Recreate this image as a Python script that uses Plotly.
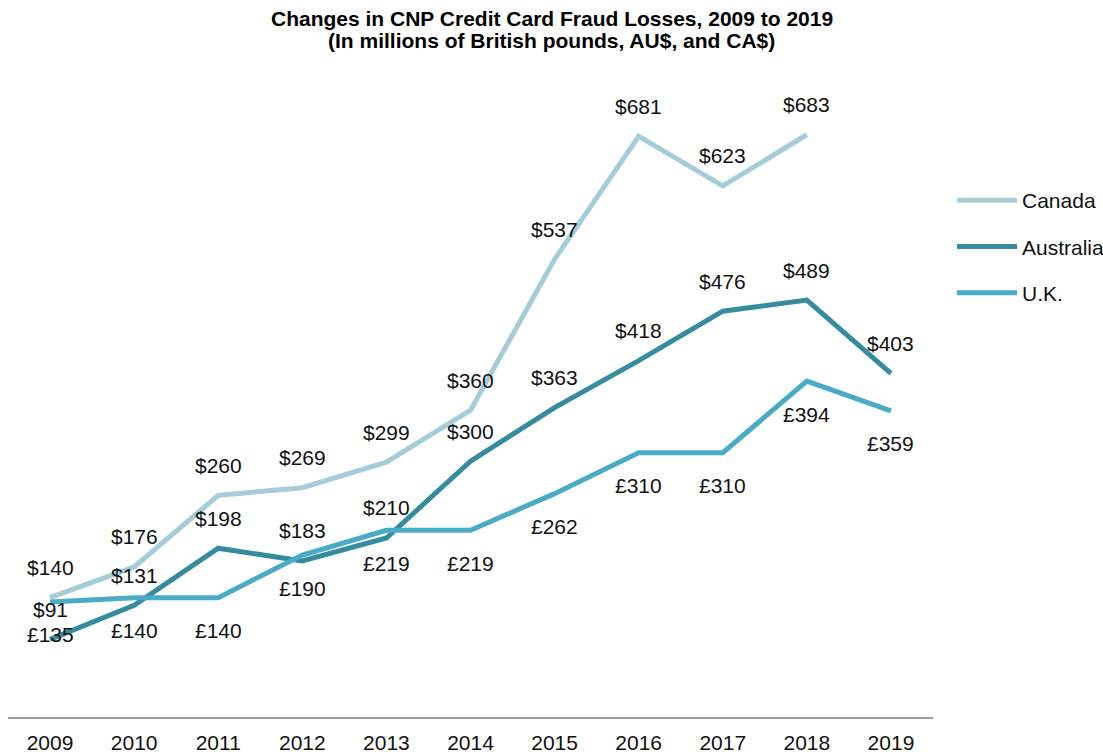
import plotly.graph_objects as go

years = [2009, 2010, 2011, 2012, 2013, 2014, 2015, 2016, 2017, 2018, 2019]
canada = [140, 176, 260, 269, 299, 360, 537, 681, 623, 683, None]
australia = [91, 131, 198, 183, 210, 300, 363, 418, 476, 489, 403]
uk = [135, 140, 140, 190, 219, 219, 262, 310, 310, 394, 359]

title_lines = ["Changes in CNP Credit Card Fraud Losses, 2009 to 2019",
               "(In millions of British pounds, AU$, and CA$)"]

series = [
    ("Canada", canada, "#a6ccd9", "$", 30),
    ("Australia", australia, "#368c9f", "$", 30),
    ("U.K.", uk, "#4aabc7", "£", -33),
]

FONT = "Liberation Sans, Arial, sans-serif"
fig = go.Figure()
annotations = []
for name, vals, color, cur, shift in series:
    fig.add_trace(go.Scatter(x=years, y=vals, mode="lines", name=name,
                             legendgroup=name,
                             line=dict(color=color, width=5),
                             connectgaps=False, hoverinfo="skip"))
    for x, v in zip(years, vals):
        if v is None:
            continue
        annotations.append(dict(x=x, y=v, text=f"{cur}{v}", showarrow=False,
                                yshift=shift, xanchor="center", yanchor="middle",
                                font=dict(family=FONT, size=21, color="#111111")))

for line, yy in zip(title_lines, [1.0249, 0.9926]):
    annotations.append(dict(xref="paper", yref="paper", x=0.588, y=yy,
                            text=f"<b>{line}</b>", showarrow=False,
                            xanchor="center", yanchor="middle",
                            font=dict(family=FONT, size=21, color="#000000")))

fig.update_layout(
    width=1103, height=756,
    paper_bgcolor="white", plot_bgcolor="white",
    margin=dict(l=8, r=170, t=35, b=39, autoexpand=False),
    font=dict(family=FONT, size=21, color="#111111"),
    showlegend=True,
    legend=dict(xref="container", yref="container",
                x=0.8631, xanchor="left", y=0.7619, yanchor="top",
                font=dict(family=FONT, size=21, color="#111111"), itemwidth=60,
                traceorder="grouped", tracegroupgap=16,
                bgcolor="rgba(0,0,0,0)"),
    annotations=annotations,
)
fig.update_xaxes(range=[2008.5, 2019.5], tickmode="array", tickvals=years,
                 ticktext=[str(y) for y in years], showgrid=False, zeroline=False,
                 showline=True, linecolor="#9e9e9e", linewidth=2, ticks="",
                 automargin=False,
                 ticklabelstandoff=6, tickfont=dict(family=FONT, size=21, color="#111111"))
fig.update_yaxes(range=[0, 800], visible=False, showgrid=False, zeroline=False,
                 automargin=False)

# remove the default 8px page margin so the 1103x756 figure fills the window exactly
fig.write_html("out.html",
               config={"displayModeBar": False},
               post_script="document.body.style.margin='0';document.body.style.overflow='hidden';")
